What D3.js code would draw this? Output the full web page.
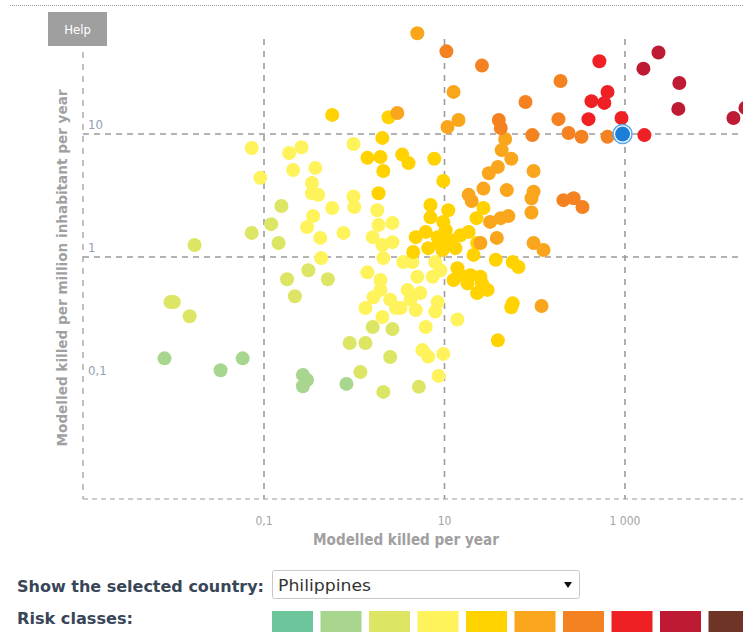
<!DOCTYPE html>
<html>
<head>
<meta charset="utf-8">
<script src="https://cdn.jsdelivr.net/npm/d3@7"></script>
<style>
  html, body { margin: 0; padding: 0; background: #fff; }
  svg { display: block; }
  text { font-family: Tahoma, "DejaVu Sans Condensed", "DejaVu Sans", sans-serif; }
</style>
</head>
<body>
<svg id="chart" width="743" height="632"></svg>
<script>
// Risk class palette (class 0 = lowest, class 9 = highest)
const riskColors = ["#6dc69b", "#a9d68e", "#dde565", "#fff35c", "#ffd200",
                    "#f9a61c", "#f58220", "#ee2024", "#bf1a33", "#6e3426"];

// Countries per risk class: [modelled killed per year, killed per million inhabitants per year]
const riskClass1 = [[0.0079,0.15],[0.033,0.12],[0.058,0.15],[0.27,0.11],[0.30,0.10],[0.27,0.089],[0.82,0.093]];
const riskClass2 = [[0.017,1.25],[0.0092,0.43],[0.010,0.43],[0.015,0.33],[0.073,1.57],[0.12,1.85],[0.145,1.3],
  [0.156,2.6],[0.18,0.66],[0.31,0.78],[0.51,0.66],[0.22,0.48],[1.6,0.27],[2.65,0.26],[0.89,0.20],[1.33,0.20],
  [2.5,0.154],[1.17,0.116],[2.1,0.08],[5.2,0.088]];
const riskClass3 = [[0.073,7.7],[0.091,4.4],[0.19,7.0],[0.26,7.8],[0.21,5.1],[0.37,5.3],[0.34,4.0],[0.34,3.3],
  [0.40,3.2],[0.57,2.5],[0.98,3.1],[1.0,2.55],[0.98,8.3],[0.35,2.15],[0.30,1.75],[0.42,1.43],[0.76,1.57],
  [0.43,0.98],[1.8,2.4],[1.86,1.82],[2.65,1.89],[1.6,1.45],[2.05,1.25],[2.65,1.32],[2.1,0.98],[1.4,0.75],
  [1.95,0.65],[1.95,0.54],[1.63,0.47],[2.5,0.45],[2.9,0.385],[3.9,0.54],[4.2,0.45],[5.4,0.51],[4.8,0.37],
  [8.4,0.43],[7.9,0.36],[1.33,0.385],[13.9,0.31],[3.5,0.91],[4.4,0.91],[5.0,0.69],[7.9,0.91],[9.0,0.78],
  [7.4,0.69],[2.05,0.325],[6.2,0.27],[5.7,0.175],[6.6,0.155],[9.7,0.163],[8.6,0.108],[3.25,0.385]];
const riskClass4 = [[0.57,14.3],[2.4,13.7],[2.05,9.3],[1.4,6.4],[1.95,6.5],[2.1,5.0],[3.4,6.8],[4.0,5.8],
  [7.7,6.3],[9.7,4.15],[1.86,3.3],[7.0,2.65],[7.0,2.1],[11,2.4],[9.7,1.93],[4.8,1.45],[6.2,1.6],[8.4,1.45],
  [6.6,1.18],[8.6,1.3],[9.5,1.14],[4.5,1.1],[11.6,1.37],[13.2,1.18],[15,1.5],[18.5,1.6],[23,1.3],[21,1.04],
  [27,2.5],[22.6,2.07],[37,0.95],[57,0.91],[66,0.83],[13.9,0.81],[12.6,0.65],[15,0.71],[19.4,0.71],[25,0.69],
  [26,0.61],[30,0.54],[23,0.51],[18,0.61],[57,0.42],[55,0.39],[39,0.21],[10.3,1.65]];
const riskClass5 = [[5.0,66],[12.6,22],[14.3,13],[10.8,11.4],[3.0,14.8],[47,9.1],[43,7.4],[55,6.3],[39,5.4],
  [31,4.8],[97,5.0],[27,3.6],[18.5,3.2],[20,2.85],[49,3.5],[97,3.4],[92,3.0],[92,2.3],[32,1.93],[42,2.07],
  [51,2.15],[25,1.3],[38,1.43],[97,1.3],[125,1.14],[119,0.40]];
const riskClass6 = [[10.5,47],[26,36],[40,13],[42,11.2],[193,27],[79,18.2],[183,13.2],[94,9.8],[237,10.2],
  [330,9.5],[640,9.5],[208,2.9],[270,3.0],[338,2.55]];
const riskClass7 = [[520,39],[640,22],[425,18.5],[590,17.9],[394,13.2],[915,13.5],[1640,9.8]];
const riskClass8 = [[2350,46],[1600,34],[4000,26],[3900,16],[15900,13.5],[21600,16.3]];

const selectedCountry = { name: "Philippines", killed: 940, perMillion: 10 };

const xTicks = [0.1, 10, 1000];
const xTickLabels = ["0,1", "10", "1 000"];
const yGridValues = [10, 1];
const yTicks = [10, 1, 0.1];
const yTickLabels = ["10", "1", "0,1"];

const svg = d3.select("#chart");

// plot frame
const plot = { left: 83, right: 743, top: 39, bottom: 499 };

const x = d3.scaleLog().domain([0.1, 1000]).range([264, 625]);
const y = d3.scaleLog().domain([1, 10]).range([257, 134]);

// top dotted separator
svg.append("line").attr("x1", 10).attr("x2", 743).attr("y1", 5.5).attr("y2", 5.5)
  .attr("stroke", "#9a9a9a").attr("stroke-width", 1).attr("stroke-dasharray", "1,1");

// Help button
svg.append("rect").attr("x", 48).attr("y", 12).attr("width", 59).attr("height", 34).attr("fill", "#9f9f9f");
svg.append("text").attr("x", 77.5).attr("y", 34).attr("text-anchor", "middle")
  .attr("fill", "#fff").attr("font-size", 13).text("Help");

// frame: left and bottom borders
svg.append("line").attr("x1", plot.left).attr("x2", plot.left).attr("y1", 52).attr("y2", plot.bottom)
  .attr("stroke", "#999").attr("stroke-width", 1.2).attr("stroke-dasharray", "6,6");
svg.append("line").attr("x1", plot.left).attr("x2", plot.right).attr("y1", plot.bottom).attr("y2", plot.bottom)
  .attr("stroke", "#999").attr("stroke-width", 1.2).attr("stroke-dasharray", "5,4");

// vertical grid
svg.append("g").selectAll("line").data(xTicks).join("line")
  .attr("x1", d => x(d)).attr("x2", d => x(d))
  .attr("y1", plot.top).attr("y2", plot.bottom)
  .attr("stroke", "#9c9c9c").attr("stroke-width", 1.6).attr("stroke-dasharray", "6,6");

// horizontal grid
svg.append("g").selectAll("line").data(yGridValues).join("line")
  .attr("x1", plot.left).attr("x2", plot.right)
  .attr("y1", d => y(d)).attr("y2", d => y(d))
  .attr("stroke", "#9c9c9c").attr("stroke-width", 1.6).attr("stroke-dasharray", "6,5");

// x tick labels
svg.append("g").selectAll("text").data(xTicks).join("text")
  .attr("x", d => x(d)).attr("y", 525).attr("text-anchor", "middle")
  .attr("fill", "#a3a3a3").attr("font-size", 12)
  .text((d, i) => xTickLabels[i]);

// y tick labels
svg.append("g").selectAll("text").data(yTicks).join("text")
  .attr("x", 88).attr("y", d => y(d) - 5)
  .attr("fill", "#93a0b4").attr("font-size", 13)
  .text((d, i) => yTickLabels[i]);

// axis titles
svg.append("text").attr("x", 406).attr("y", 545).attr("text-anchor", "middle")
  .attr("fill", "#a0a0a0").attr("font-size", 15).attr("font-weight", "bold")
  .attr("textLength", 186).attr("lengthAdjust", "spacingAndGlyphs")
  .text("Modelled killed per year");
svg.append("text").attr("transform", "translate(67,268) rotate(-90)").attr("text-anchor", "middle")
  .attr("fill", "#a0a0a0").attr("font-size", 14.5).attr("font-weight", "bold")
  .attr("textLength", 357).attr("lengthAdjust", "spacingAndGlyphs")
  .text("Modelled killed per million inhabitant per year");

// points
const classes = [
  { cls: 1, pts: riskClass1 }, { cls: 2, pts: riskClass2 }, { cls: 3, pts: riskClass3 },
  { cls: 4, pts: riskClass4 }, { cls: 5, pts: riskClass5 }, { cls: 6, pts: riskClass6 },
  { cls: 7, pts: riskClass7 }, { cls: 8, pts: riskClass8 }
];
const pointData = classes.flatMap(c => c.pts.map(p => ({ killed: p[0], perMillion: p[1], cls: c.cls })));

svg.append("g").selectAll("circle").data(pointData).join("circle")
  .attr("cx", d => x(d.killed)).attr("cy", d => y(d.perMillion)).attr("r", 7)
  .attr("fill", d => riskColors[d.cls]);

// highlighted country
const sel = svg.append("g");
sel.append("circle").attr("cx", x(selectedCountry.killed)).attr("cy", y(selectedCountry.perMillion))
  .attr("r", 9.5).attr("fill", "#fff").attr("stroke", "#5aa6ea").attr("stroke-width", 1.5);
sel.append("circle").attr("cx", x(selectedCountry.killed)).attr("cy", y(selectedCountry.perMillion))
  .attr("r", 7.5).attr("fill", "#1b7fd8");

// bottom controls
svg.append("text").attr("x", 17).attr("y", 592).attr("fill", "#384658")
  .attr("font-size", 16).attr("font-weight", "bold")
  .attr("textLength", 247).attr("lengthAdjust", "spacingAndGlyphs")
  .text("Show the selected country:");
svg.append("rect").attr("x", 272.5).attr("y", 570.5).attr("width", 307).attr("height", 28)
  .attr("rx", 2).attr("fill", "#fff").attr("stroke", "#c8c8c8");
svg.append("text").attr("x", 278).attr("y", 591).attr("fill", "#333")
  .attr("font-size", 16).attr("textLength", 93).attr("lengthAdjust", "spacingAndGlyphs")
  .text(selectedCountry.name);
svg.append("path").attr("d", "M564,582 L572,582 L568,588 Z").attr("fill", "#111");

svg.append("text").attr("x", 17).attr("y", 624).attr("fill", "#384658")
  .attr("font-size", 16).attr("font-weight", "bold")
  .attr("textLength", 116).attr("lengthAdjust", "spacingAndGlyphs")
  .text("Risk classes:");

const legendX = d3.scaleLinear().domain([0, 9]).range([272, 708.5]);
svg.append("g").selectAll("rect").data(riskColors).join("rect")
  .attr("x", (d, i) => legendX(i)).attr("y", 611).attr("width", 41).attr("height", 22)
  .attr("fill", d => d);
</script>
</body>
</html>
